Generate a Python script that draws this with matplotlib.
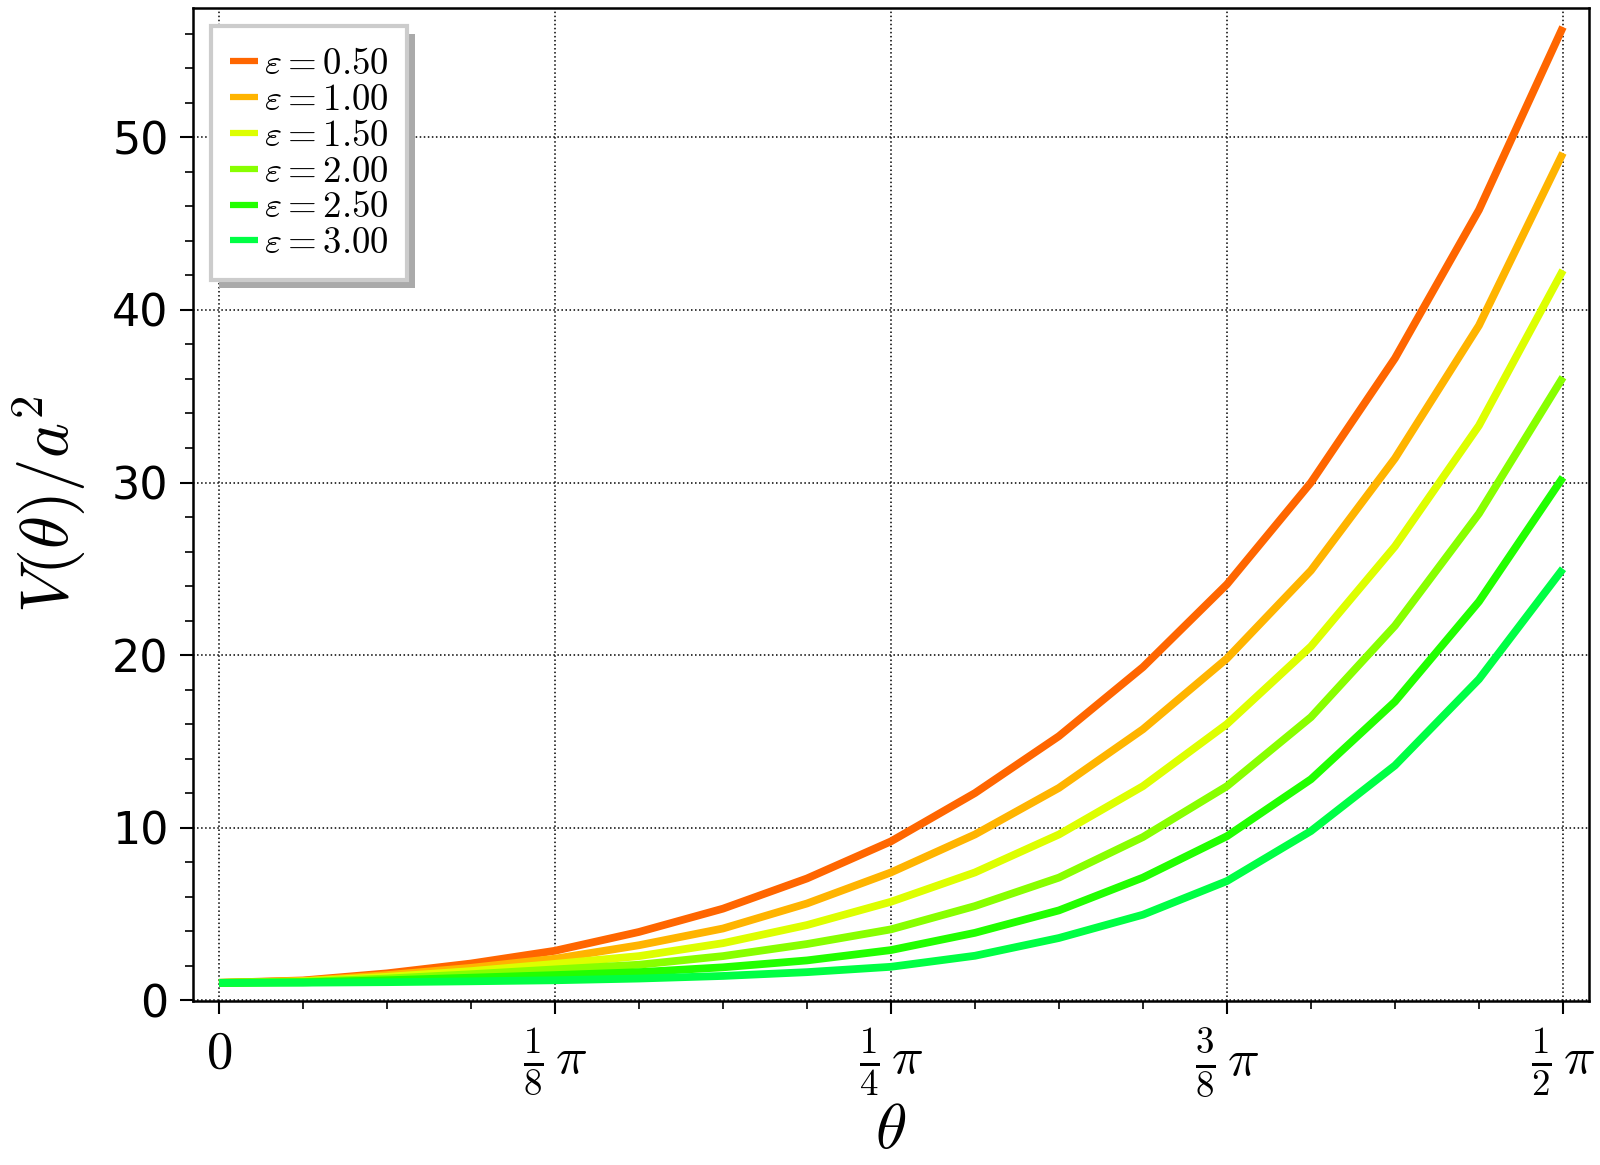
import numpy as np
import matplotlib
matplotlib.use("Agg")
import matplotlib.pyplot as plt
from matplotlib.patches import Rectangle
from matplotlib.ticker import MultipleLocator

plt.rcParams['mathtext.fontset'] = 'cm'
plt.rcParams['font.family'] = 'DejaVu Sans'

# theta samples in units of pi (steps of pi/32)
theta_over_pi = [k / 32 for k in range(17)]

eps_values = [0.50, 1.00, 1.50, 2.00, 2.50, 3.00]
colors = ['#FF6600', '#FFB400', '#DDFF00', '#88FF00', '#22FF00', '#00FF44']

# V(theta)/a^2
v_eps050 = [1.0, 1.14, 1.55, 2.12, 2.86, 3.95, 5.30, 7.05, 9.20, 12.0,
            15.3, 19.3, 24.1, 30.0, 37.2, 45.8, 56.4]
v_eps100 = [1.0, 1.11, 1.45, 1.87, 2.40, 3.18, 4.15, 5.60, 7.40, 9.60,
            12.3, 15.7, 19.8, 24.9, 31.4, 39.1, 49.1]
v_eps150 = [1.0, 1.09, 1.35, 1.68, 2.10, 2.55, 3.30, 4.35, 5.70, 7.40,
            9.60, 12.4, 16.0, 20.5, 26.3, 33.3, 42.3]
v_eps200 = [1.0, 1.06, 1.25, 1.50, 1.78, 2.05, 2.55, 3.25, 4.10, 5.45,
            7.10, 9.45, 12.4, 16.4, 21.7, 28.2, 36.1]
v_eps250 = [1.0, 1.03, 1.15, 1.30, 1.45, 1.62, 1.90, 2.30, 2.90, 3.90,
            5.20, 7.10, 9.50, 12.8, 17.3, 23.1, 30.3]
v_eps300 = [1.0, 1.01, 1.04, 1.09, 1.15, 1.25, 1.40, 1.62, 1.93, 2.57,
            3.60, 4.95, 6.90, 9.80, 13.6, 18.6, 25.0]
series = [v_eps050, v_eps100, v_eps150, v_eps200, v_eps250, v_eps300]

xtick_labels = [r'$0$', r'$\frac{1}{8}\,\pi$', r'$\frac{1}{4}\,\pi$',
                r'$\frac{3}{8}\,\pi$', r'$\frac{1}{2}\,\pi$']

fig = plt.figure(figsize=(16, 11.65), dpi=100)
ax = fig.add_axes([0.1206, 0.1408, 0.8724, 0.8523])

theta = np.pi * np.array(theta_over_pi)
for eps, vals, c in zip(eps_values, series, colors):
    ax.plot(theta, vals, color=c, lw=5.6, solid_capstyle='butt',
            solid_joinstyle='round', label=r'$\varepsilon = %.2f$' % eps)

ax.set_xlim(-0.0304, 1.601)
ax.set_ylim(-0.05, 57.5)
ax.set_xticks(np.pi * np.array([0, 1/8, 1/4, 3/8, 1/2]))
ax.set_xticklabels(xtick_labels, fontsize=38)
ax.xaxis.set_minor_locator(MultipleLocator(np.pi / 32))
ax.set_yticks([0, 10, 20, 30, 40, 50])
ax.yaxis.set_minor_locator(MultipleLocator(2))
ax.tick_params(axis='y', which='major', labelsize=32, length=9.5, width=1.5, pad=8)
ax.tick_params(axis='x', which='major', length=9.5, width=1.5, pad=9)
ax.tick_params(which='minor', length=6, width=1.2)
ax.tick_params(top=False, right=False, which='both', direction='out')
for s in ax.spines.values():
    s.set_linewidth(1.8)

ax.grid(True, which='major', color='black', linestyle=':', linewidth=1.1)

ax.set_xlabel(r'$\theta$', fontsize=46, labelpad=0)
ax.set_ylabel(r'$V(\theta)/a^2$', fontsize=48, labelpad=17)

leg = ax.legend(loc='upper left', fontsize=26.5, handlelength=0.77,
                handletextpad=0.15, labelspacing=-0.03, borderpad=0.5,
                fancybox=False, framealpha=1, edgecolor='#cccccc')
leg.get_frame().set_linewidth(3)
for h in leg.get_lines():
    h.set_linewidth(4.5)

# offset shadow behind the legend box
fig.canvas.draw()
bb = leg.get_window_extent()
shadow = Rectangle((bb.x0 + 8, bb.y0 - 8), bb.width, bb.height,
                   transform=None, facecolor='#aaaaaa', edgecolor='none',
                   zorder=leg.get_zorder() - 0.5)
ax.add_artist(shadow)

fig.savefig('out.png', dpi=100)
